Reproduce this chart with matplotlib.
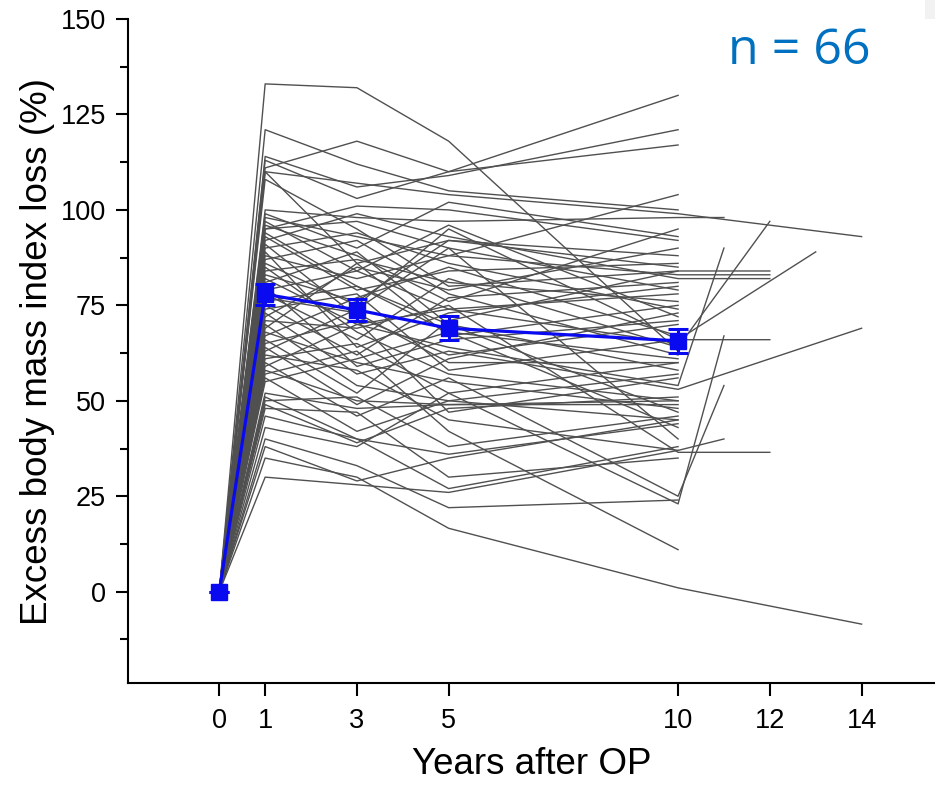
import numpy as np
import matplotlib
matplotlib.use("Agg")
import matplotlib.pyplot as plt
from matplotlib.ticker import FixedLocator
from matplotlib.patches import Rectangle

# ---- data ----
years_main = [0, 1, 3, 5, 10]
years_extra = [11, 12, 13, 14]

Y1 = [133, 121, 111, 114, 113, 110, 110, 108, 100, 99, 98, 97, 96, 95, 95, 94, 93, 92, 91, 90,
      89, 88, 87, 86, 85, 84, 83, 82, 81, 80, 79, 78, 77, 76, 75, 74, 73, 72, 71, 70,
      69, 68, 67, 66, 65, 64, 63, 62, 61, 60, 59, 58, 57, 56, 55, 52, 51, 50, 49, 48,
      46, 43, 40, 38, 35, 30]
Y3 = [132, 112, 118, 106, 103, 107, 86, 95, 98, 90, 93, 84, 88, 101, 97, 80, 79, 99, 72, 94,
      64, 82, 92, 75, 68, 87, 76, 70, 89, 59, 84, 66, 73, 80, 62, 78, 57, 85, 69, 54,
      86, 60, 77, 52, 71, 49, 74, 58, 65, 46, 70, 50, 63, 42, 61, 48, 40, 51, 39, 47,
      40, 38, 33, 29, 30, 28]
Y5 = [118, 105, 110, 109, 110, 104, 92, 80, 97, 102, 88, 96, 76, 100, 90, 70, 84, 93, 62, 86,
      73, 88, 78, 95, 57, 81, 92, 64, 70, 66, 74, 82, 60, 68, 77, 58, 63, 79, 75, 50,
      67, 55, 85, 71, 47, 61, 90, 45, 52, 56, 74, 49, 42, 50, 68, 49, 36, 38, 48, 30,
      27, 52, 22, 35, 16.6, 26]
Y10 = [63, 100, 130, 121, 117, 99, 88, 84, 98, 93, 83, 72, 95, 92, 79, 58, 86, 82, 70, 74,
       80, 104, 62, 66, 50, 76, 85, 54, 47, 71, 78, 64, 60, 43, 81, 66, 53, 90, 36.5, 45,
       75, 48, 67, 84, 56, 73, 40, 37, 23, 25, 65, 49, 11, 57, 61, 50, 44, 46, 51, 35,
       38, 60, 24, 45, 1, 37]
N = len(Y1)
Y11 = [None] * N
Y12 = [None] * N
Y13 = [None] * N
Y14 = [None] * N
Y14[5] = 93
Y12[7] = 84
Y11[8] = 98
Y12[10] = 83
Y12[17] = 82
Y12[23] = 66
Y11[27] = 90
Y12[31] = 97
Y13[35] = 89
Y14[36] = 69
Y12[38] = 36.5
Y11[47] = 40
Y11[48] = 67
Y11[49] = 54
Y14[64] = -8.5

mean_years = [0, 1, 3, 5, 10]
mean_vals = [0, 77.9, 73.8, 69.0, 65.7]
mean_err = [0, 2.7, 2.9, 3.2, 3.2]

n_text = "n = 66"
xticks = [0, 1, 3, 5, 10, 12, 14]
yticks = [0, 25, 50, 75, 100, 125, 150]

# ---- figure ----
W, H = 935, 785
fig = plt.figure(figsize=(W / 100, H / 100), dpi=100)
ax = fig.add_axes([128.3 / W, (H - 683.3) / H, (W - 128.3) / W, (683.3 - 19) / H])

all_extra = [Y11, Y12, Y13, Y14]
for i in range(N):
    xs, ys = [0], [0]
    for yr, arr in zip([1, 3, 5, 10], [Y1, Y3, Y5, Y10]):
        if arr[i] is not None:
            xs.append(yr)
            ys.append(arr[i])
    for yr, arr in zip(years_extra, all_extra):
        if arr[i] is not None:
            xs.append(yr)
            ys.append(arr[i])
    ax.plot(xs, ys, color="#505050", lw=1.0, zorder=2)

ax.errorbar(mean_years, mean_vals, yerr=mean_err, color="#0a0af0", lw=2.3,
            marker="s", markersize=11, capsize=7.5, capthick=2.2, elinewidth=2.2,
            zorder=5)

ax.set_xlim(-1.983, 15.60)
ax.set_ylim(-24, 150)

ax.xaxis.set_major_locator(FixedLocator(xticks))
ax.yaxis.set_major_locator(FixedLocator(yticks))
ax.yaxis.set_minor_locator(FixedLocator([-12.5, 12.5, 37.5, 62.5, 87.5, 112.5, 137.5]))

for s in ["top", "right"]:
    ax.spines[s].set_visible(False)
for s in ["left", "bottom"]:
    ax.spines[s].set_linewidth(1.5)

fam = ["Liberation Sans", "DejaVu Sans"]
ax.tick_params(axis="both", which="major", direction="out", length=9, width=1.5,
               labelsize=19.5)
ax.tick_params(axis="x", which="major", pad=9)
ax.tick_params(axis="y", which="major", pad=7)
ax.tick_params(axis="y", which="minor", direction="out", length=6, width=1.5)
for lab in ax.get_xticklabels() + ax.get_yticklabels():
    lab.set_fontfamily(fam)

ax.set_xlabel("Years after OP", fontsize=26.5, family=fam, labelpad=9)
ax.set_ylabel("Excess body mass index loss (%)", fontsize=26.5, family=fam, labelpad=4)

fig.text(728 / W, 1 - 64 / H, n_text, color="#0070C0", fontsize=36,
         family=["Open Sans", "DejaVu Sans"], ha="left", va="baseline")

fig.add_artist(Rectangle((925 / W, 1 - 265 / H), 10 / W, 265 / H,
                         transform=fig.transFigure, color="#f2f2f2", zorder=0, lw=0))

fig.savefig("out.png", dpi=100)
